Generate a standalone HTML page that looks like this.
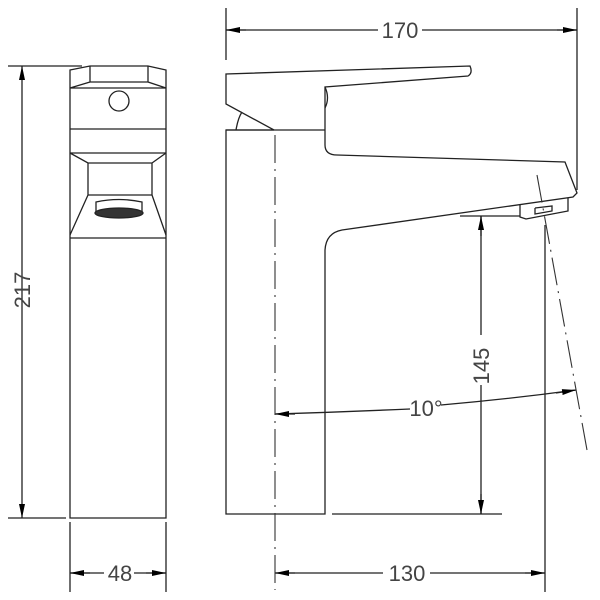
<!DOCTYPE html>
<html><head><style>body{margin:0;background:#fff}svg{display:block}</style></head><body>
<svg width="600" height="600" viewBox="0 0 600 600" xmlns="http://www.w3.org/2000/svg">
<defs>
<marker id="a" viewBox="0 0 14 6" refX="14" refY="3" markerWidth="14" markerHeight="6" markerUnits="userSpaceOnUse" orient="auto-start-reverse"><path d="M0,0L14,3L0,6z" fill="#000"/></marker>
</defs>
<g fill="none" stroke="#222" stroke-width="1.3">
<!-- left view -->
<path d="M70,70 L90,66 L148,66 L166,70 L166,518 L70,518 Z"/>
<path d="M90,66 L90,82 L70,88 M148,66 L148,82 L166,88 M90,82 L148,82 M70,88 L166,88"/>
<circle cx="119" cy="101" r="10"/>
<path d="M70,129 L166,129 M70,153 L166,153 M70,153 L88,163 L152,163 L166,153 M88,163 L88,195 L70,235 M152,163 L152,195 L166,235 M88,195 L152,195 M70,238 L166,238"/>
<path d="M96,212 L96,202 Q119,197 142,202 L142,212"/>
<ellipse cx="119" cy="213" rx="24" ry="5" fill="#333"/>
<!-- dims left -->
<path d="M8,66 L82,66 M8,518 L66,518"/>
<path d="M22,66 L22,518" marker-start="url(#a)" marker-end="url(#a)"/>
<path d="M70,522 L70,592 M166,522 L166,592"/>
<path d="M70,573 L104,573 M134,573 L166,573"/>
<path d="M70,573 L90,573" marker-start="url(#a)"/><path d="M146,573 L166,573" marker-end="url(#a)"/>
<!-- right view -->
<path d="M226,130 L226,514 L325,514 L325,250 Q326,233 342,230 L573,197 L577,193 L565,162 L337,155 Q325,155 325,145 L325,87 L468,76 Q473,73 470,66 L226,74 L226,104 L274,130 Z"/>
<path d="M226,130 L325,130 M236,130 Q238,118 242,112 M325,87 Q330,98 325,108"/>
<path d="M520,204 L520,217 L526,219 L568,211 L568,198 M535,208 L535,214 L552,211 L552,206 L535,208"/>
<!-- 170 -->
<path d="M226,8 L226,60 M577,8 L577,190"/>
<path d="M226,30 L378,30 M422,30 L577,30"/>
<path d="M226,30 L246,30" marker-start="url(#a)"/><path d="M557,30 L577,30" marker-end="url(#a)"/>
<!-- 145 -->
<path d="M460,216 L520,216 M332,514 L502,514"/>
<path d="M481,216 L481,335 M481,385 L481,514"/>
<path d="M481,236 L481,216" marker-end="url(#a)"/><path d="M481,494 L481,514" marker-end="url(#a)"/>
<!-- 130 -->
<path d="M545,225 L545,592"/>
<path d="M275,573 L383,573 M430,573 L545,573"/>
<path d="M295,573 L275,573" marker-end="url(#a)"/><path d="M525,573 L545,573" marker-end="url(#a)"/>
<!-- 10° -->
<path d="M275,414 Q340,412 410,409"/>
<path d="M441,405 Q510,399 576,390"/>
<path d="M295,414 L275,414" marker-end="url(#a)"/><path d="M556,393 L576,390" marker-end="url(#a)"/>
</g>
<g fill="none" stroke="#333" stroke-width="1.1" stroke-dasharray="28,6,2,6">
<path d="M275,135 L275,590"/>
<path d="M537,175 L587,450"/>
</g>
<g font-family="Liberation Sans, sans-serif" font-size="22" fill="#444" text-anchor="middle">
<text x="400" y="38">170</text>
<text x="120" y="581">48</text>
<text x="407" y="581">130</text>
<text x="426" y="416">10°</text>
<text transform="translate(30,290) rotate(-90)">217</text>
<text transform="translate(489,366) rotate(-90)">145</text>
</g>
</svg>
</body></html>
